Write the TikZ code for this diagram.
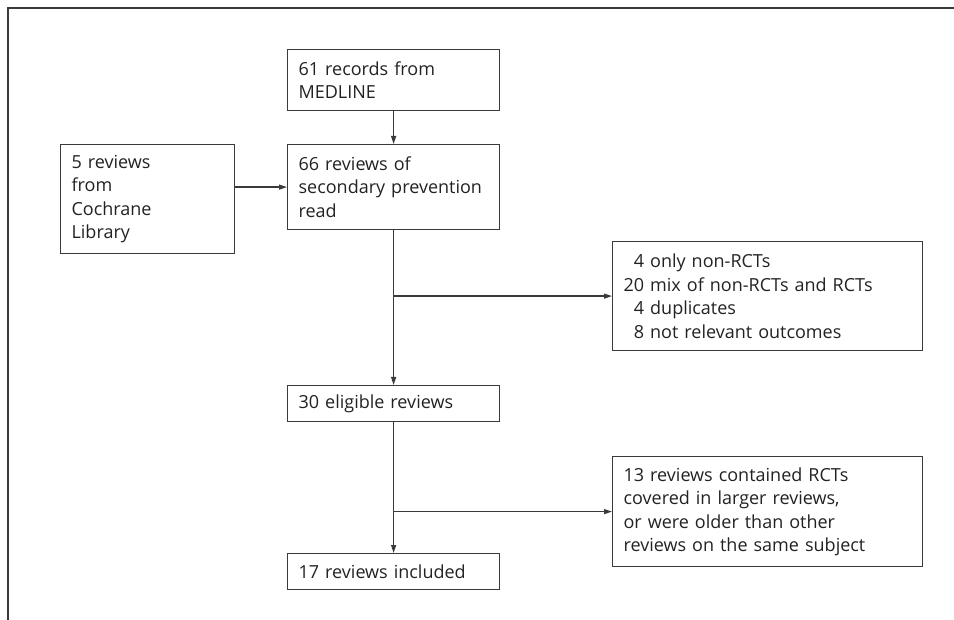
\documentclass[tikz,border=0pt]{standalone}
\usepackage{fontspec}
\setmainfont{Open Sans}
\usetikzlibrary{arrows.meta,positioning}
\definecolor{linegray}{HTML}{3A3A3A}
\definecolor{textgray}{HTML}{222222}
\tikzset{
  recbox/.style={draw=linegray, line width=1.2pt, anchor=north west, align=left,
    inner xsep=11pt, inner ysep=2pt, text=textgray,
    font=\fontsize{18}{23.5}\selectfont},
  arr/.style={-{Triangle[length=8pt,width=5pt]}, line width=1.2pt, draw=linegray}
}
\begin{document}
\begin{tikzpicture}[x=1pt,y=-1pt]
  \useasboundingbox (0,0) rectangle (954,620);
  % frame
  \draw[linegray, line width=1.2pt] (954,8) -- (8,8) -- (8,620);
  % boxes
  \node[recbox, text width=190pt, minimum height=61pt] (medline) at (287,49)
    {61 records from\\MEDLINE};
  \node[recbox, text width=190pt, minimum height=85pt] (read) at (287,144)
    {66 reviews of\\secondary prevention\\read};
  \node[recbox, text width=152pt, minimum height=109pt] (cochrane) at (60,144)
    {5 reviews\\from\\Cochrane\\Library};
  \node[recbox, text width=288pt, minimum height=109pt] (excla) at (612,241)
    {\phantom{2}4 only non-RCTs\\20 mix of non-RCTs and RCTs\\\phantom{2}4 duplicates\\\phantom{2}8 not relevant outcomes};
  \node[recbox, text width=190pt, minimum height=36pt] (eligible) at (287,385)
    {30 eligible reviews};
  \node[recbox, text width=288pt, minimum height=110pt] (exclb) at (612,456)
    {13 reviews contained RCTs\\covered in larger reviews,\\or were older than other\\reviews on the same subject};
  \node[recbox, text width=190pt, minimum height=36pt] (included) at (287,553)
    {17 reviews included};
  % connectors
  \draw[arr] (medline) -- (read);
  \draw[arr] (cochrane.east |- read.west) -- (read.west);
  \draw[arr] (read) -- (eligible);
  \draw[arr] (read.south |- excla.west) -- (excla.west);
  \draw[arr] (eligible) -- (included);
  \draw[arr] (eligible.south |- exclb.west) -- (exclb.west);
\end{tikzpicture}
\end{document}
